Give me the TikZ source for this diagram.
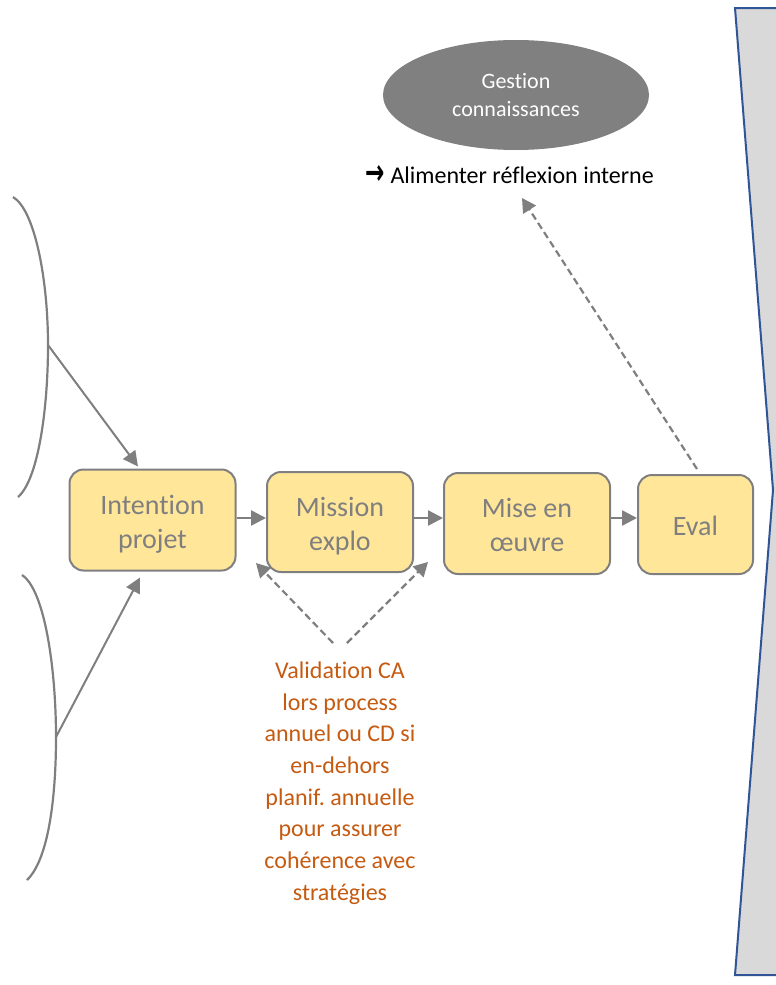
\documentclass[tikz,border=0pt]{standalone}
\usepackage{fontspec}
\setmainfont{Carlito}[Ligatures={NoCommon}]
\newfontfamily\dejavu{DejaVu Sans}
\usetikzlibrary{arrows.meta,shapes.geometric}
\definecolor{boxfill}{HTML}{FFE699}
\definecolor{boxline}{HTML}{7F7F7F}
\definecolor{boxtext}{HTML}{7F7F7F}
\definecolor{orangetext}{HTML}{C55A11}
\definecolor{chevfill}{HTML}{D9D9D9}
\definecolor{chevline}{HTML}{2F5597}
\definecolor{ellfill}{HTML}{808080}
\newcommand\bxstrut{\rule[-6pt]{0pt}{34pt}}
\frenchspacing
\begin{document}
\begin{tikzpicture}[x=1pt,y=-1pt,
 stepbox/.style={draw=boxline, fill=boxfill, line width=2pt, rounded corners=14pt, text=boxtext, font=\fontsize{28}{34}\selectfont, align=center, inner sep=0pt},
 arr/.style={draw=boxline, line width=2.5pt, -{Triangle[length=15pt,width=15pt]}},
 darr/.style={draw=boxline, line width=2.2pt, dash pattern=on 7pt off 4pt, -{Triangle[length=14pt,width=15pt]}},
 bracketline/.style={draw=boxline, line width=2.2pt}
]
\useasboundingbox (0,0) rectangle (776,985);
% right chevron
\begin{scope}
\clip (0,0) rectangle (776,985);
\draw[draw=chevline, fill=chevfill, line width=2pt] (735,8) -- (800,8) -- (800,975) -- (735,975) -- (773,490) -- cycle;
\end{scope}
% boxes
\node[stepbox, minimum width=166pt, minimum height=101pt] (int) at (152.5,520) {\bxstrut Intention\\projet\bxstrut};
\node[stepbox, minimum width=146pt, minimum height=100pt] (mis) at (340,522) {\bxstrut Mission\\explo\bxstrut};
\node[stepbox, minimum width=166pt, minimum height=101pt] (mise) at (527,523.5) {\bxstrut Mise en\\\oe uvre\bxstrut};
\node[stepbox, minimum width=115pt, minimum height=99pt] (ev) at (695.5,524.5) {\bxstrut Eval};
% arrows between boxes
\draw[arr] (int.east |- 0,518) -- (mis.west |- 0,518);
\draw[arr] (mis.east |- 0,518) -- (mise.west |- 0,518);
\draw[arr] (mise.east |- 0,518) -- (ev.west |- 0,518);
% ellipse
\node[ellipse, fill=ellfill, minimum width=266pt, minimum height=110pt, inner sep=0pt, text=white, align=center, font=\fontsize{22}{28}\selectfont] (gc) at (516,95) {Gestion\\connaissances};
\node[anchor=base west, inner sep=0pt, font=\fontsize{24}{28}\selectfont] (alim) at (365,183) {\raisebox{-1.5pt}{\scalebox{1.05}[1.6]{\dejavu\bfseries\fontsize{22}{28}\selectfont →}}\hspace{6pt}Alimenter réflexion interne};
% dashed from Eval
\coordinate (gtip) at (522,198);
\draw[darr] ([xshift=1.5pt,yshift=5pt]ev.north) -- (gtip);
% brackets
\draw[bracketline] (13,197) .. controls (35,210) and (48,280) .. (48,345) .. controls (48,410) and (38,480) .. (18,497);
\draw[bracketline] (22,575) .. controls (45,590) and (56,670) .. (56,737) .. controls (56,800) and (48,860) .. (27,880);
\coordinate (bu) at (48,345);
\coordinate (bl) at (56,737);
\draw[arr, line width=2pt] (bu) -- ([xshift=-14.5pt,yshift=2pt]int.north);
\draw[arr, line width=2pt] (bl) -- ([xshift=-12.5pt,yshift=-6pt]int.south);
% validation
\node[text=orangetext, align=center, inner sep=0pt, font=\fontsize{24}{31.7}\selectfont] (val) at (340,783) {Validation CA\\lors process\\annuel ou CD si\\en-dehors\\planif. annuelle\\pour assurer\\cohérence avec\\stratégies};
\coordinate (vl) at (333,643);
\coordinate (vr) at (347,643);
\draw[darr] (vl) -- ([xshift=-10pt,yshift=10pt]mis.south west);
\draw[darr] (vr) -- ([xshift=14pt,yshift=11pt]mis.south east);
\end{tikzpicture}
\end{document}
